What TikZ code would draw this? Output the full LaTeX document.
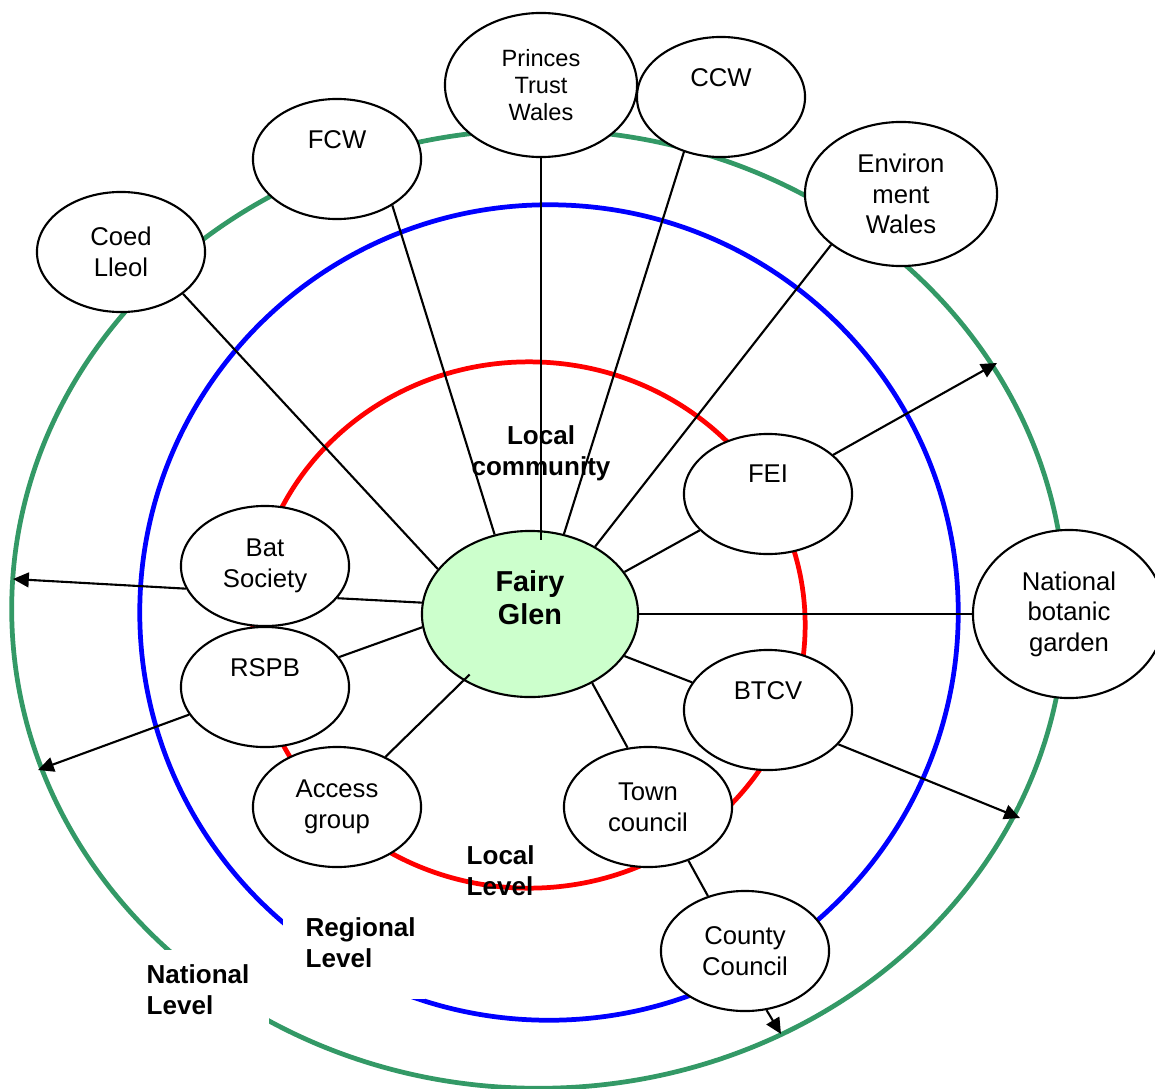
\documentclass[tikz,border=0pt]{standalone}
\usepackage{fontspec}
\setmainfont{Liberation Sans}
\usetikzlibrary{shapes.geometric,arrows.meta}
\definecolor{natgreen}{HTML}{339966}
\definecolor{glenfill}{HTML}{CCFFCC}

\begin{document}
\begin{tikzpicture}[x=0.01cm,y=-0.01cm,
  >={Triangle[length=4.5pt,width=4.2pt]},
  ring/.style={line width=1.35pt},
  body/.style={draw,ellipse,fill=white,line width=0.6pt,inner sep=0pt,align=center,
    minimum width=1.68cm,minimum height=1.2cm,font=\fontsize{7.3}{8.7}\selectfont},
  bigbody/.style={body,minimum width=1.92cm,minimum height=1.44cm},
  link/.style={line width=0.6pt},
  lvl/.style={inner sep=0pt,font=\fontsize{7.4}{8.8}\selectfont\bfseries}]
\useasboundingbox (0,0) rectangle (1155,1088);
\draw [ring,natgreen] (538.5,609) ellipse (5.265cm and 4.79cm);
\draw [ring,blue] (549,612.5) ellipse (4.09cm and 4.075cm);
\draw [ring,red] (529,625) ellipse (2.76cm and 2.63cm);
\fill [white] (128,950) rectangle (269,1095);
\fill [white] (283,900) rectangle (425,999);
\node [lvl,align=left,anchor=north west] (natlvl) at (146,964) {National\\Level};
\node [lvl,align=left,anchor=north west] (reglvl) at (305,917) {Regional\\Level};
\node [lvl,align=left,anchor=north west] (loclvl) at (466,845) {Local\\Level};
\node [lvl,align=center] (comm) at (541,453) {Local\\community};
\node [body] (coed) at (121,252) {Coed\\Lleol};
\node [body] (fcw) at (337,159) {FCW\\\strut};
\node [bigbody,font=\fontsize{6.7}{7.7}\selectfont] (prince) at (541,85) {Princes\\Trust\\Wales};
\node [body] (ccw) at (721,97) {CCW\\\strut};
\node [bigbody] (env) at (901,194) {Environ\\ment\\Wales};
\node [body] (fei) at (768,494) {FEI\\\strut};
\node [bigbody,minimum height=1.68cm] (nbg) at (1069,614) {National\\botanic\\garden};
\node [body] (btcv) at (768,710) {BTCV\\\strut};
\node [body] (town) at (648,807) {Town\\council};
\node [body] (county) at (745,951) {County\\Council};
\node [body] (access) at (337,807) {Access\\group};
\node [body] (rspb) at (265,687) {RSPB\\\strut};
\node [body] (bat) at (265,566) {Bat\\Society};
\node [body,fill=glenfill,minimum width=2.16cm,minimum height=1.66cm,font=\fontsize{8.2}{9.4}\selectfont\bfseries] (fg) at (530,614) {Fairy\\Glen\\\mbox{}};
\draw [link] (coed.-34) -- (fg.154);
\draw [link] (fcw.-40) -- (fg.114);
\draw [link,shorten >=-3pt] (prince.south) -- (prince.south |- fg.north);
\draw [link] (ccw.-124) -- (fg.67);
\draw [link] (env.-144) -- (fg.46);
\draw [link] (fei.-152) -- (fg.24);
\draw [link] (fg.east) -- (nbg.west);
\draw [link] (fg.-24) -- (btcv.160);
\draw [link] (fg.-48) -- (town.109);
\draw [link,shorten <=-2.5pt] (fg.-135) -- (access.46);
\draw [link] (fg.-173) -- (rspb.22);
\draw [link] (fg.174) -- (bat.-24);
\draw [link] (town.-53) -- (county.124);
\coordinate (gfei) at (997,363);
\coordinate (gbat) at (13,579);
\coordinate (grspb) at (38,770);
\coordinate (gbtcv) at (1020,818);
\coordinate (gcounty) at (781,1034);
\draw [link,->] (fei.31) -- (gfei);
\draw [link,->] (bat.-164) -- (gbat);
\draw [link,->] (rspb.-160) -- (grspb);
\draw [link,->] (btcv.-26) -- (gbtcv);
\draw [link,->] (county.-70) -- (gcounty);
\end{tikzpicture}
\end{document}
